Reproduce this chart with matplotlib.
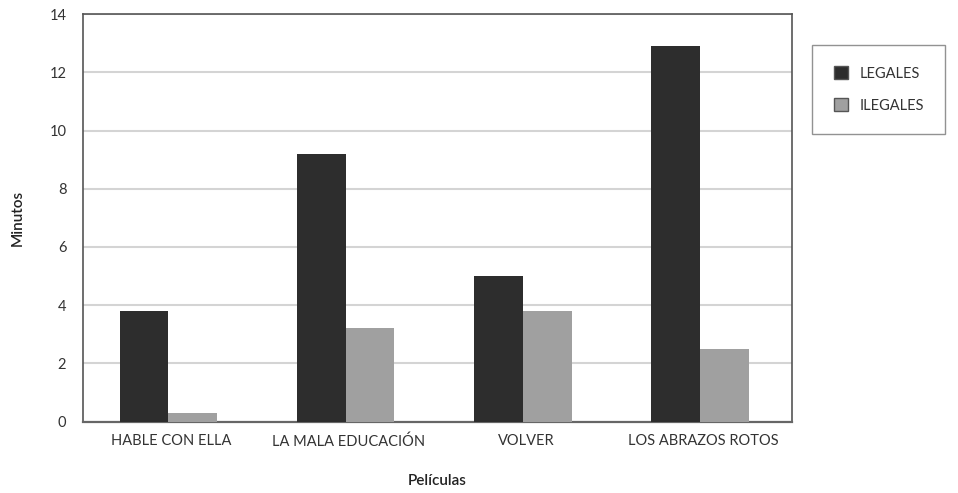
import numpy as np
import matplotlib.pyplot as plt

peliculas = ['HABLE CON ELLA', 'LA MALA EDUCACIÓN', 'VOLVER', 'LOS ABRAZOS ROTOS']
legales = [3.8, 9.2, 5.0, 12.9]
ilegales = [0.3, 3.2, 3.8, 2.5]

plt.rcParams['font.family'] = ['Lato', 'DejaVu Sans']

fig = plt.figure(figsize=(9.58, 4.93), dpi=100)
ax = fig.add_axes([0.0866, 0.145, 0.74, 0.826])

x = np.arange(len(peliculas))
w = 0.275
off = -0.018
ax.bar(x - w / 2 + off, legales, width=w, color='#2d2d2d', label='LEGALES', zorder=3)
ax.bar(x + w / 2 + off, ilegales, width=w, color='#a0a0a0', label='ILEGALES', zorder=3)

ax.set_xlim(-0.5, 3.5)
ax.set_ylim(0, 14)
ax.set_yticks(range(0, 15, 2))
ax.set_xticks(x)
ax.set_xticklabels(peliculas, fontsize=10.5, color='#333333')
ax.tick_params(axis='y', labelsize=10.5, labelcolor='#333333', length=0, pad=12)
ax.tick_params(axis='x', length=0, pad=9)
ax.yaxis.grid(True, color='#d4d4d4', linewidth=1.5, zorder=0)

for s in ax.spines.values():
    s.set_color('#555555')
    s.set_linewidth(1.2)
ax.spines['bottom'].set_color('#666666')
ax.spines['bottom'].set_linewidth(1.6)

ax.set_ylabel('Minutos', fontsize=11, color='#222222', labelpad=18, fontweight='semibold')
ax.set_xlabel('Películas', fontsize=11, color='#222222', labelpad=18, fontweight='semibold')

leg = fig.legend(loc='upper left', bbox_to_anchor=(0.848, 0.909), fontsize=10.5,
                 frameon=True, fancybox=False, borderpad=1.45, labelspacing=1.2,
                 handlelength=1.0, handleheight=1.0, handletextpad=0.8,
                 borderaxespad=0)
leg.get_frame().set_edgecolor('#777777')
leg.get_frame().set_linewidth(1.0)
for t in leg.get_texts():
    t.set_color('#333333')
for h in leg.legend_handles:
    h.set_edgecolor('#555555')

fig.savefig('out.png', dpi=100)
